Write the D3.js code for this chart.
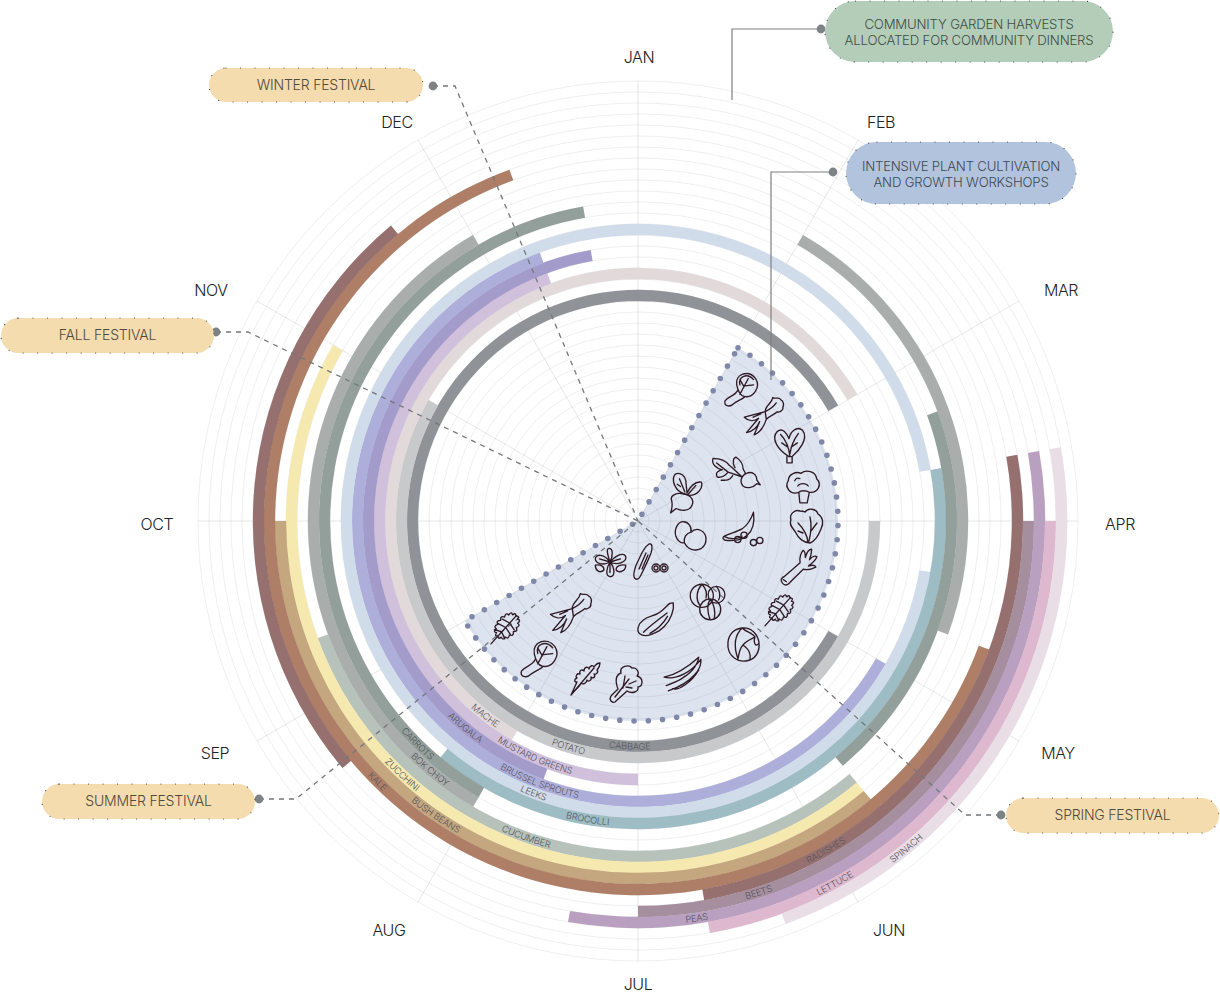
<!DOCTYPE html>
<html><head><meta charset="utf-8">
<script src="https://cdnjs.cloudflare.com/ajax/libs/d3/7.8.5/d3.min.js"></script>
<style>
html,body{margin:0;padding:0;background:#fff}
svg{display:block}
text{font-family:Inter,"Liberation Sans",sans-serif;font-weight:300}
</style></head><body><svg id="c" width="1220" height="994"></svg>
<script>
// ---------- data (month units: 0 = JAN at top, running clockwise; values past 12 wrap into next year)
const months = ["JAN","FEB","MAR","APR","MAY","JUN","JUL","AUG","SEP","OCT","NOV","DEC"];
const crops = ["CABBAGE","POTATO","MACHE","MUSTARD GREENS","ARUGALA","BRUSSEL SPROUTS","LEEKS","BROCOLLI","CARROTS","BOK CHOY","CUCUMBER","ZUCCHINI","BUSH BEANS","KALE","RADISHES","BEETS","PEAS","LETTUCE","SPINACH"];
const seasons = [
  [[4,14]],[[3,10]],[[7,14]],[[6,11.33]],[[6.67,11.67]],[[4,11.33]],[[3.33,14.67]],[[2.67,7.33]],
  [[2.33,4.67],[7,11.67]],[[1,3.67],[7,11]],[[4.67,8.33]],[[4.67,10]],[[4.67,9]],[[3.67,11.33]],
  [[2.67,5.67],[7.67,10.67]],[[3,6]],[[2.67,6.33]],[[3,5.67]],[[2.67,5.33]]
];
const cropColors = ["#8f9296","#c8c9cb","#e2d9da","#d0c0dc","#a39ccb","#aeaedb","#d1dcea","#9dbcc4","#939f9a","#a9aead","#b7c2ba","#f5e9b0","#c4a67f","#ae7f66","#95706f","#a58e9d","#b99fc0","#deb8ce","#e9dde6"];
const labelMonth = [6.07,6.57,7.27,6.79,7.33,6.69,6.7,6.32,7.49,7.33,6.65,7.43,7.15,7.5,5.01,5.4,5.72,5.05,4.69];
const wedgeMonths = [1,8];
const iconNames = ["bokchoy","carrot","spinach","broccoli","lettuce","leek","kale","cabbage","beans","mustard","arugula","bokchoy","kale","carrot","zucchini","brussels","mache","cucumber","potato","peas","beets","radish"];

// ---------- layout
const W=1220,H=994,cx=638,cy=521;
const svg=d3.select("#c"), g=svg.append("g").attr("transform",`translate(${cx},${cy})`);
const angle=d3.scaleLinear().domain([0,12]).range([0,2*Math.PI]);
const ring=d3.scaleBand().domain(crops).range([220,429]);
const gridR=d3.scaleLinear().domain([0,40]).range([0,440]);
const arc=d3.arc();

// wedge
const wedgeR=200;
g.append("path").attr("d",arc({innerRadius:0,outerRadius:wedgeR,startAngle:angle(wedgeMonths[0]),endAngle:angle(wedgeMonths[1])}))
 .attr("fill","#dde4ef");

// grid
g.append("g").selectAll("circle").data(d3.range(1,41)).join("circle")
 .attr("r",d=>gridR(d)).attr("fill","none").attr("stroke","rgba(110,110,120,.16)").attr("stroke-width",.7);
g.append("g").selectAll("line").data(d3.range(12)).join("line")
 .attr("x1",0).attr("y1",0)
 .attr("x2",d=>gridR(40)*Math.sin(angle(d))).attr("y2",d=>-gridR(40)*Math.cos(angle(d)))
 .attr("stroke","rgba(110,110,120,.2)").attr("stroke-width",.8);

// wedge dotted edge
g.append("path").attr("d",arc({innerRadius:0,outerRadius:wedgeR,startAngle:angle(wedgeMonths[0]),endAngle:angle(wedgeMonths[1])}))
 .attr("fill","none").attr("stroke","#7f88a9").attr("stroke-width",5.6).attr("stroke-linecap","round").attr("stroke-dasharray","0 14.25");

// bars
const segs=crops.flatMap((c,i)=>seasons[i].map(s=>({c,i,s})));
g.append("g").selectAll("path").data(segs).join("path")
 .attr("d",d=>arc({innerRadius:ring(d.c)-.15,outerRadius:ring(d.c)+ring.bandwidth()+.15,startAngle:angle(d.s[0]),endAngle:angle(d.s[1])}))
 .attr("fill",d=>cropColors[d.i]);

// ring labels on arcs
const defs=svg.append("defs");
crops.forEach((c,i)=>{
  const a=angle(labelMonth[i])-Math.PI/2, rr=ring(c)+ring.bandwidth()/2+3.2, sp=0.5;
  const p=d3.path(); p.arc(0,0,rr,a+sp,a-sp,true);
  defs.append("path").attr("id","lp"+i).attr("d",p.toString());
  g.append("text").attr("font-size",9.2).attr("fill","#55555c").attr("letter-spacing","-0.15")
   .append("textPath").attr("href","#lp"+i).attr("startOffset","50%").attr("text-anchor","middle").text(c);
});

// month labels
const monthPos=[[639,57],[881,122],[1061,290],[1120,524],[1058,753],[889,930],[638,984],[389,930],[215,753],[157,524],[211,290],[397,122]];
svg.append("g").selectAll("text").data(months).join("text")
 .attr("x",(d,i)=>monthPos[i][0]).attr("y",(d,i)=>monthPos[i][1]+5.5)
 .attr("text-anchor","middle").attr("font-size",16).attr("letter-spacing","-0.4").attr("fill","#222").text(d=>d);

// leaders
const leaders=svg.append("g");
const solid=[[[821,29],[732,29],[732,100]],[[833,172],[771,172],[771,380]]];
const dashed=[[[433,86],[455,86],[cx,cy]],[[216,332],[248,332],[cx,cy]],[[259,799],[296,799],[cx,cy]],[[1001,815],[965,815],[cx,cy]]];
const ln=d3.line();
leaders.selectAll(".s").data(solid).join("path").attr("class","s").attr("d",ln).attr("fill","none").attr("stroke","#808080").attr("stroke-width",1.2);
leaders.selectAll(".d").data(dashed).join("path").attr("class","d").attr("d",ln).attr("fill","none").attr("stroke","#73777b").attr("stroke-width",1.3).attr("stroke-dasharray","5 5");
leaders.selectAll("circle").data([...solid,...dashed]).join("circle").attr("cx",d=>d[0][0]).attr("cy",d=>d[0][1]).attr("r",4.4).attr("fill","#7d8285");

// callouts
const notes=[
 {x:825,y:1,w:288,h:61,f:"#b3cdb9",c:"#3f4d45",fs:13.2,t:["COMMUNITY GARDEN HARVESTS","ALLOCATED FOR COMMUNITY DINNERS"]},
 {x:846,y:142,w:230,h:62,f:"#b2c4dd",c:"#3f4852",fs:13.2,t:["INTENSIVE PLANT CULTIVATION","AND GROWTH WORKSHOPS"]},
 {x:209,y:68,w:214,h:34,f:"#f5dcae",c:"#4f4a3c",fs:14,t:["WINTER FESTIVAL"]},
 {x:1,y:318,w:213,h:35,f:"#f5dcae",c:"#4f4a3c",fs:14,t:["FALL FESTIVAL"]},
 {x:42,y:784,w:213,h:35,f:"#f5dcae",c:"#4f4a3c",fs:14,t:["SUMMER FESTIVAL"]},
 {x:1006,y:798,w:213,h:35,f:"#f5dcae",c:"#4f4a3c",fs:14,t:["SPRING FESTIVAL"]}
];
const ng=svg.append("g").selectAll("g").data(notes).join("g");
ng.append("rect").attr("x",d=>d.x).attr("y",d=>d.y).attr("width",d=>d.w).attr("height",d=>d.h).attr("rx",d=>d.h/2)
 .attr("fill",d=>d.f).attr("stroke","#3d3d3d").attr("stroke-width",1.2).attr("stroke-linecap","round").attr("stroke-dasharray","0 14.5");
ng.each(function(d){
  const n=d3.select(this), gap=16;
  d.t.forEach((s,i)=>n.append("text").attr("x",d.x+d.w/2).attr("y",d.y+d.h/2+(i-(d.t.length-1)/2)*gap+d.fs*.36+(d.t.length>1?1:-.5))
   .attr("text-anchor","middle").attr("font-size",d.fs).attr("letter-spacing","-0.2").attr("fill",d.c).text(s));
});

// icons (decorative line glyphs; centred at 0,0)
function bumpy(n,rx,ry,b){let s="";for(let i=0;i<n;i++){const t=i/n*2*Math.PI,t2=(i+1)/n*2*Math.PI,tm=(t+t2)/2;
  const x=Math.cos(t)*rx,y=Math.sin(t)*ry,x2=Math.cos(t2)*rx,y2=Math.sin(t2)*ry,mx=Math.cos(tm)*(rx+b),my=Math.sin(tm)*(ry+b);
  s+=(i?"":`M${x} ${y}`)+`Q${mx} ${my} ${x2} ${y2}`;}return s+"Z";}
const glyphs={
 bokchoy:"M-5 -3C-7 -13 6 -18 13 -9C18 -1 11 10 2 8C-2 7 -4 2 -5 -3ZM-2 -3C-4 -11 5 -15 11 -8M-4 2C-7 8 -13 8 -16 12C-18 17 -12 19 -8 15C-4 12 0 11 3 8M-2 6L6 -9M2 -1L-2 -8M3 -2L11 -3",
 carrot:"M2 -3L-17 2C-13 6 -8 6 -4 3L-15 16C-9 15 -5 11 -3 6L-8 18C-3 16 1 10 3 4ZM-2 -1L-9 2M2 -3C2 -9 8 -10 9 -16C11 -14 15 -17 16 -14C19 -13 19 -9 18 -7C19 -4 14 -2 13 -3C10 0 5 1 3 4M2 -3C6 -5 10 -8 12 -11",
 spinach:"M0 11C-10 5 -18 -6 -11 -13C-6 -17 -2 -11 0 -6C1 -12 7 -19 13 -14C19 -6 9 6 3 11ZM-2 11L-2 17L3 17L3 11M1 11C0 3 -3 -5 -8 -10M1 8C2 1 6 -7 9 -11M-1 2L-7 -2M2 2L8 -2",
 broccoli:"M-4 6C-12 9 -18 1 -14 -5C-14 -12 -6 -14 -2 -12C3 -16 12 -14 13 -7C18 -2 15 7 6 6L4 16L-3 16ZM-5 0C-3 -3 3 -3 5 0M-8 -5C-7 -7 -5 -8 -3 -7M-4 6C-2 4 3 4 6 6",
 lettuce:"M-6 -14C-12 -16 -17 -10 -15 -5C-18 0 -12 4 -10 8C-8 13 -2 18 4 18C10 16 13 9 15 4C18 -2 17 -8 12 -11C10 -17 2 -17 -1 -13C-3 -14 -4 -14 -6 -14ZM2 17C1 9 -3 3 -8 -2M3 16C5 8 6 0 4 -8M-3 8L-8 6M5 6L11 -2",
 leek:"M-15 16C-17 14 -16 11 -13 10L2 -3C1 -8 3 -13 5 -15C7 -14 7 -10 7 -8C8 -12 10 -16 13 -16C13 -12 12 -9 11 -6C13 -9 16 -10 18 -9C17 -5 12 -2 10 0C13 -1 16 -1 17 1C13 3 8 4 5 3L-9 17C-11 19 -14 18 -15 16ZM-14 13L-11 15",
 kale:bumpy(16,13,8.5,4)+"M-24 0L14 0M-8 0L-11 -7M-8 0L-11 7M-2 0L-4 -8M-2 0L-4 8M4 0L2 -8M4 0L2 8",
 cabbage:"M-2 -17C-12 -16 -17 -8 -16 2C-15 11 -7 17 2 16C11 15 16 7 15 -2C14 -11 7 -18 -2 -17ZM-2 -17C-9 -10 -11 0 -6 14M-2 -17C2 -13 9 -12 11 -8C7 -6 2 -4 -1 0C3 3 7 6 6 15M-1 0C-4 3 -5 7 -6 14M11 -8C9 -2 12 3 15 -2",
 beans:"M-18 3C-8 1 4 -6 15 -16C14 -8 6 4 -16 11M-16 11C-10 9 -2 6 2 2M-18 3C-6 6 8 -2 17 -14C18 -6 10 8 -14 16M-10 14C-4 16 8 8 15 -4",
 mustard:"M-16 18C-19 14 -14 11 -9 6C-12 -2 -11 -8 -6 -10C-8 -17 2 -19 5 -15C10 -16 13 -10 10 -7C17 -5 16 3 11 4C12 9 5 11 0 8C-4 12 -9 16 -12 19C-14 20 -15 19 -16 18ZM-12 14L2 -4M-4 5L-2 -7M2 1L9 -2M-1 4L5 5",
 arugula:"M-14 18L-8 5C-11 5 -11 2 -8 1C-10 -1 -8 -4 -5 -3C-6 -7 -3 -8 -1 -6C-1 -10 3 -11 4 -8C5 -12 8 -12 9 -10C11 -13 14 -14 15 -14C15 -11 13 -8 12 -7C14 -5 11 -2 9 -3C11 0 8 2 6 0C7 4 3 5 2 3C2 6 -2 8 -4 6C-5 9 -9 12 -14 18ZM-14 18L9 -9",
 zucchini:"M-13 16C-17 14 -16 7 -12 3C-8 -2 -2 -2 2 -7C5 -10 7 -14 9 -16L12 -17L13 -12C13 -4 10 4 4 10C-2 15 -8 19 -13 16ZM-10 14C-6 8 0 2 8 -7M-4 14C1 10 6 4 9 -4",
 brussels:"M-4 -5m-11 0a11 11 0 1 0 22 0a11 11 0 1 0 -22 0M10 -6m-8 0a8 8 0 1 0 16 0a8 8 0 1 0 -16 0M4 8m-10 0a10 10 0 1 0 20 0a10 10 0 1 0 -20 0M-4 -16C-9 -10 -10 -2 -6 4M-4 -16C1 -11 1 -7 0 -3M4 -2C1 3 1 10 4 18M4 -2C8 4 9 10 8 16M10 -14C13 -10 14 -5 12 -1",
 mache:"M0 0C-6 -9 -14 -7 -14 -3C-14 1 -7 4 0 0C7 -8 14 -9 15 -5C16 -1 8 4 0 0C-3 5 -5 13 0 14C5 14 5 6 0 0C-2 -6 -4 -13 -1 -13C3 -13 3 -6 0 0M-10 -3L0 0L10 -3M0 0L0 10M-14 3C-9 2 -5 4 -6 8C-10 11 -14 8 -14 3ZM15 3C10 2 5 4 6 8C10 11 15 8 15 3Z",
 cucumber:"M-12 18C-16 17 -14 7 -9 -2C-6 -9 -2 -15 1 -17C4 -18 5 -14 3 -8C0 0 -4 8 -7 14C-8 16 -10 19 -12 18ZM-9 8L-2 -8M-6 8L0 -6M4 7a4 4 0 1 0 8 0a4 4 0 1 0 -8 0M6 7a2 2 0 1 0 4 0a2 2 0 1 0 -4 0M12 7a4 4 0 1 0 8 0a4 4 0 1 0 -8 0M14 7a2 2 0 1 0 4 0a2 2 0 1 0 -4 0",
 potato:"M-8 -14C-14 -14 -18 -6 -16 1C-14 7 -10 9 -7 8C-4 15 4 18 11 14C18 9 17 -2 10 -5C6 -7 3 -6 0 -3C1 -9 -3 -14 -8 -14ZM-7 8C-8 3 -5 -2 0 -3",
 peas:"M-18 6C-12 3 -6 2 -1 -1C5 -5 8 -11 10 -17C11 -9 10 0 4 5C-1 10 -8 10 -15 10C-19 10 -20 7 -18 6ZM-18 6C-13 9 -6 9 -1 6M-8 9a3 3 0 1 0 6 0a3 3 0 1 0 -6 0M-2 5a3 3 0 1 0 6 0a3 3 0 1 0 -6 0M7 12a3 3 0 1 0 6 0a3 3 0 1 0 -6 0M13 10a3 3 0 1 0 6 0a3 3 0 1 0 -6 0",
 beets:"M-3 1C-9 -1 -14 -10 -10 -16C-5 -19 0 -14 0 -8L1 1C3 -4 8 -10 14 -9C16 -3 10 3 3 3ZM-13 8C-15 3 -8 0 -2 2C5 3 8 8 5 13C2 18 -5 17 -9 15L-14 19C-13 16 -12 12 -13 8ZM-6 -12L-1 0M9 -6L2 2M-5 -5L-8 -7",
 radish:"M19 8C19 3 15 0 10 2C5 4 4 10 7 13C11 16 16 14 19 11L22 12L19 8ZM6 5L-6 1M-6 1C-10 6 -17 7 -16 3C-17 2 -14 -1 -11 -1C-16 -2 -21 -6 -19 -11C-14 -11 -8 -9 -5 -5C-3 -4 -1 -1 6 5M-6 1L-16 -7M0 -3C-3 -8 -1 -12 1 -12C4 -10 7 -7 7 -2L9 2M-2 4C-5 9 -9 8 -12 8"
};
const iconAt=[[742,388],[763,415],[789,445],[803,486],[806,525],[798,566],[781,608],[744,645],[683,674],[627,683],[585,677],[540,657],[507,626],[570,612],[657,619],[706,601],[610,562],[648,561],[691,535],[743,530],[686,492],[735,471]];
const iconRot=[0,0,0,0,0,0,-48,0,0,0,0,0,-48,0,10,0,0,0,0,0,0,0];
const iconScale=[1.05,1.1,1.05,1.05,1,1.05,1,1,1.05,1,1,1.15,1,1.15,1.1,1.05,1.05,1,.95,1.05,1.1,1.15];
svg.append("g").selectAll("path").data(iconNames).join("path")
 .attr("transform",(d,i)=>`translate(${iconAt[i][0]},${iconAt[i][1]}) rotate(${iconRot[i]}) scale(${iconScale[i]})`)
 .attr("d",d=>glyphs[d]).attr("fill","none").attr("stroke","#2e1a25").attr("stroke-width",1.35).attr("vector-effect","non-scaling-stroke").attr("stroke-linejoin","round").attr("stroke-linecap","round");
</script></body></html>
